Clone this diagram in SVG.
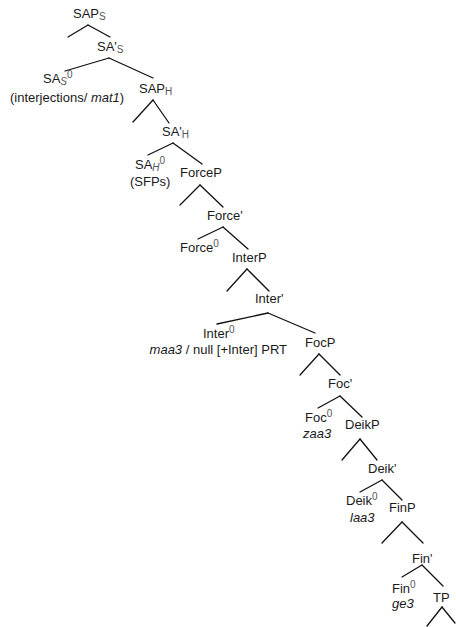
<svg xmlns="http://www.w3.org/2000/svg" width="456" height="627" viewBox="0 0 456 627">
<style>
text{font-family:"Liberation Sans",Arial,sans-serif;font-size:13px;fill:#1a1a1a}
.s{font-size:10px;fill:#555}
.i{font-style:italic}
#edges line{stroke:#111;stroke-width:1.3;stroke-linecap:round}
</style>
<rect width="456" height="627" fill="#fff"/>
<g id="edges">
<line x1="88" y1="25" x2="68" y2="37"/><line x1="88" y1="25" x2="110" y2="37"/>
<line x1="109" y1="58" x2="65" y2="71"/><line x1="109" y1="58" x2="153" y2="78"/>
<line x1="153" y1="100" x2="133" y2="122"/><line x1="153" y1="100" x2="169" y2="123"/>
<line x1="173" y1="143" x2="148" y2="155"/><line x1="173" y1="143" x2="202" y2="164"/>
<line x1="200" y1="185" x2="180" y2="205"/><line x1="200" y1="185" x2="223" y2="207"/>
<line x1="223" y1="227" x2="198" y2="239"/><line x1="223" y1="227" x2="248" y2="249"/>
<line x1="247" y1="269" x2="227" y2="291"/><line x1="247" y1="269" x2="269" y2="291"/>
<line x1="268" y1="313" x2="217" y2="324"/><line x1="268" y1="313" x2="315" y2="333"/>
<line x1="319" y1="354" x2="300" y2="375"/><line x1="319" y1="354" x2="340" y2="375"/>
<line x1="340" y1="396" x2="318" y2="408"/><line x1="340" y1="396" x2="362" y2="417"/>
<line x1="360" y1="439" x2="342" y2="460"/><line x1="360" y1="439" x2="377" y2="460"/>
<line x1="382" y1="480" x2="360" y2="492"/><line x1="382" y1="480" x2="402" y2="500"/>
<line x1="402" y1="522" x2="382" y2="543"/><line x1="402" y1="522" x2="423" y2="543"/>
<line x1="422" y1="565" x2="402" y2="577"/><line x1="422" y1="565" x2="443" y2="586"/>
<line x1="442" y1="607" x2="427" y2="626"/><line x1="442" y1="607" x2="455" y2="623"/>
</g>
<g id="SAPS"><text x="73" y="18">SAP<tspan class="s" dy="2">S</tspan></text></g>
<g id="SAbarS"><text x="97" y="51">SA'<tspan class="s" dy="2">S</tspan></text></g>
<g id="SAS0"><text x="43" y="83">SA<tspan class="s i" dy="2">S</tspan><tspan class="s" dy="-7">0</tspan></text>
<text x="10" y="102">(interjections/ <tspan class="i">mat1</tspan>)</text></g>
<g id="SAPH"><text x="139" y="93">SAP<tspan class="s" dy="2">H</tspan></text></g>
<g id="SAbarH"><text x="162" y="136">SA'<tspan class="s" dy="2">H</tspan></text></g>
<g id="SAH0"><text x="135" y="169">SA<tspan class="s i" dy="2">H</tspan><tspan class="s" dy="-7">0</tspan></text>
<text x="130" y="186">(SFPs)</text></g>
<g id="ForceP"><text x="180" y="177">ForceP</text></g>
<g id="ForceBar"><text x="207" y="220">Force'</text></g>
<g id="Force0"><text x="180" y="252">Force<tspan class="s" dy="-5">0</tspan></text></g>
<g id="InterP"><text x="232" y="262">InterP</text></g>
<g id="InterBar"><text x="255" y="303">Inter'</text></g>
<g id="Inter0"><text x="203" y="338">Inter<tspan class="s" dy="-5">0</tspan></text>
<text x="287" y="354" text-anchor="end"><tspan class="i">maa3 </tspan>/ null [+Inter] PRT</text></g>
<g id="FocP"><text x="305" y="347">FocP</text></g>
<g id="FocBar"><text x="328" y="388">Foc'</text></g>
<g id="Foc0"><text x="305" y="422">Foc<tspan class="s" dy="-5">0</tspan></text>
<text x="303" y="438" class="i">zaa3</text></g>
<g id="DeikP"><text x="345" y="429">DeikP</text></g>
<g id="DeikBar"><text x="368" y="473">Deik'</text></g>
<g id="Deik0"><text x="346" y="505">Deik<tspan class="s" dy="-5">0</tspan></text>
<text x="350" y="522" class="i">laa3</text></g>
<g id="FinP"><text x="389" y="512">FinP</text></g>
<g id="FinBar"><text x="412" y="563">Fin'</text></g>
<g id="Fin0"><text x="392" y="593">Fin<tspan class="s" dy="-5">0</tspan></text>
<text x="392" y="608" class="i">ge3</text></g>
<g id="TP"><text x="433" y="602">TP</text></g>
</svg>
